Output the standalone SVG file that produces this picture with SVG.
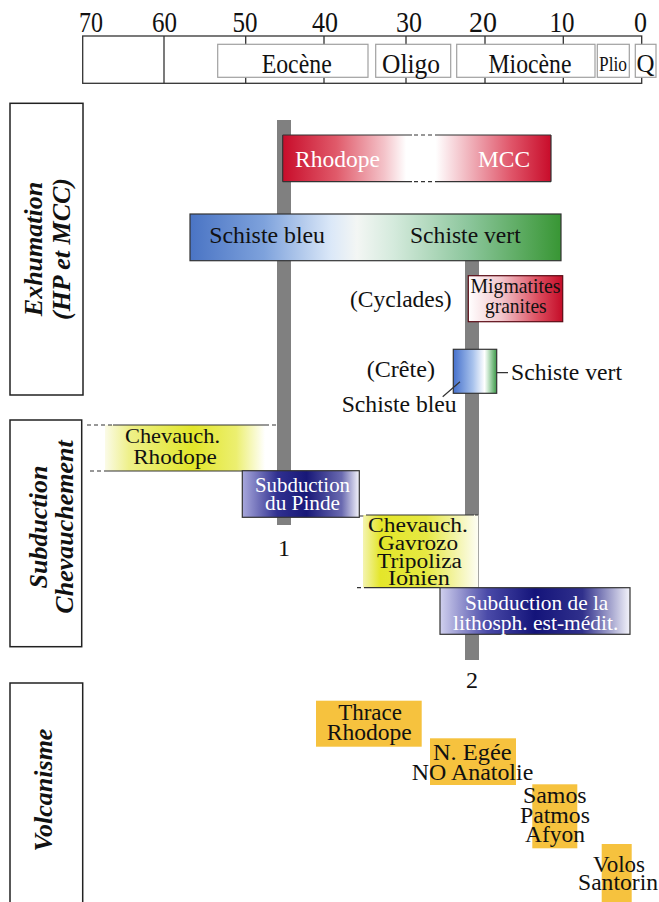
<svg xmlns="http://www.w3.org/2000/svg" width="659" height="902" viewBox="0 0 659 902">
<style>
text{font-family:"Liberation Serif","Times New Roman",serif;fill:#111}
.w{fill:#fff}
.ax{stroke:#333;stroke-width:1.3;fill:none}
.per{fill:#fff;stroke:#a0a0a0;stroke-width:1.2}
.num{font-size:29px;text-anchor:middle}
.plab{font-size:28px;text-anchor:middle}
.lab{font-size:24px}
.side{font-size:26px;font-weight:bold;font-style:italic;text-anchor:middle}
.box{stroke:#333;stroke-width:1.2}
.bar{fill:#808080}
.ln{stroke:#333;stroke-width:1.2;fill:none}
.dash{stroke:#333;stroke-width:1.2;fill:none;stroke-dasharray:4 3}
.vol{fill:#f6c23e}
.mid{text-anchor:middle}
</style>
<defs>
<linearGradient id="gRed" x1="0" y1="0" x2="1" y2="0">
<stop offset="0" stop-color="#c80c2a"/><stop offset="0.2" stop-color="#e05a6a"/><stop offset="0.38" stop-color="#f4c4ca"/><stop offset="0.46" stop-color="#ffffff"/><stop offset="0.57" stop-color="#ffffff"/><stop offset="0.68" stop-color="#f2bcc4"/><stop offset="0.85" stop-color="#e0566a"/><stop offset="1" stop-color="#c80c2a"/>
</linearGradient>
<linearGradient id="gSch" x1="0" y1="0" x2="1" y2="0">
<stop offset="0" stop-color="#4a74c4"/><stop offset="0.2" stop-color="#7ea2dc"/><stop offset="0.38" stop-color="#dbe8f8"/><stop offset="0.45" stop-color="#f3f6f4"/><stop offset="0.55" stop-color="#d4eadc"/><stop offset="0.75" stop-color="#8cc69c"/><stop offset="1" stop-color="#389634"/>
</linearGradient>
<linearGradient id="gMig" x1="0" y1="0" x2="1" y2="0">
<stop offset="0" stop-color="#ffffff"/><stop offset="0.35" stop-color="#f2c6cc"/><stop offset="0.75" stop-color="#dc4a5c"/><stop offset="1" stop-color="#c40c28"/>
</linearGradient>
<linearGradient id="gCre" x1="0" y1="0" x2="1" y2="0">
<stop offset="0" stop-color="#4570cc"/><stop offset="0.45" stop-color="#a8c2ec"/><stop offset="0.72" stop-color="#ffffff"/><stop offset="0.78" stop-color="#d8eedc"/><stop offset="1" stop-color="#3c9a48"/>
</linearGradient>
<linearGradient id="gY1" x1="0" y1="0" x2="1" y2="0">
<stop offset="0" stop-color="#fbfbe8"/><stop offset="0.15" stop-color="#eef08a"/><stop offset="0.55" stop-color="#e2e62a"/><stop offset="0.82" stop-color="#ecef70"/><stop offset="1" stop-color="#ffffff"/>
</linearGradient>
<linearGradient id="gY2" x1="0" y1="0" x2="1" y2="0">
<stop offset="0" stop-color="#f4f4b0"/><stop offset="0.15" stop-color="#e4e62a"/><stop offset="0.55" stop-color="#e6e842"/><stop offset="1" stop-color="#fdfdf5"/>
</linearGradient>
<linearGradient id="gN1" x1="0" y1="0" x2="1" y2="0">
<stop offset="0" stop-color="#a8a8dc"/><stop offset="0.3" stop-color="#303090"/><stop offset="0.55" stop-color="#181878"/><stop offset="0.85" stop-color="#6a6ab0"/><stop offset="1" stop-color="#f4f4fb"/>
</linearGradient>
<linearGradient id="gN2" x1="0" y1="0" x2="1" y2="0">
<stop offset="0" stop-color="#d0d0ee"/><stop offset="0.25" stop-color="#4a4aa8"/><stop offset="0.5" stop-color="#14147a"/><stop offset="0.75" stop-color="#30308c"/><stop offset="1" stop-color="#f4f4fb"/>
</linearGradient>
</defs>
<rect width="659" height="902" fill="#fff"/>

<g id="timescale">
<rect class="ax" x="82.7" y="36" width="559" height="47.3"/>
<line class="ax" x1="164" y1="36" x2="164" y2="83.3"/>
<path class="ax" d="M245.7 36V45M324 36V45M406 36V45M485 36V45M563.3 36V45M245.7 77V83.3M324 77V83.3M406 77V83.3M485 77V83.3M563.3 77V83.3"/>
<text class="num" x="91" y="32" textLength="24" lengthAdjust="spacingAndGlyphs">70</text>
<text class="num" x="164.5" y="32" textLength="25" lengthAdjust="spacingAndGlyphs">60</text>
<text class="num" x="245" y="32" textLength="25" lengthAdjust="spacingAndGlyphs">50</text>
<text class="num" x="325" y="32" textLength="26" lengthAdjust="spacingAndGlyphs">40</text>
<text class="num" x="409" y="32" textLength="26" lengthAdjust="spacingAndGlyphs">30</text>
<text class="num" x="483" y="32" textLength="28" lengthAdjust="spacingAndGlyphs">20</text>
<text class="num" x="562" y="32" textLength="25" lengthAdjust="spacingAndGlyphs">10</text>
<text class="num" x="640.5" y="32" textLength="13" lengthAdjust="spacingAndGlyphs">0</text>
</g>
<g id="eocene"><rect class="per" x="217.7" y="44.3" width="150.3" height="33"/><text class="plab" x="296.7" y="72.5" textLength="70" lengthAdjust="spacingAndGlyphs">Eocène</text></g>
<g id="oligo"><rect class="per" x="375.7" y="44.3" width="75" height="33"/><text class="plab" x="411" y="72.5" textLength="58" lengthAdjust="spacingAndGlyphs">Oligo</text></g>
<g id="miocene"><rect class="per" x="456.7" y="44.3" width="138.3" height="33"/><text class="plab" x="530" y="72.5" textLength="83" lengthAdjust="spacingAndGlyphs">Miocène</text></g>
<g id="plio"><rect class="per" x="597.3" y="44.3" width="32" height="33"/><text class="mid" x="613" y="71" font-size="22" textLength="28" lengthAdjust="spacingAndGlyphs">Plio</text></g>
<g id="q"><rect class="per" x="635.3" y="44.3" width="20.7" height="33"/><text class="mid" x="645.6" y="72" font-size="26" textLength="18" lengthAdjust="spacingAndGlyphs">Q</text></g>

<g id="label-exhumation">
<rect x="10" y="103.3" width="73" height="291.7" fill="#fff" stroke="#222" stroke-width="1.5"/>
<text class="side" transform="translate(42,249) rotate(-90)">Exhumation</text>
<text class="side" transform="translate(70,249) rotate(-90)">(HP et MCC)</text>
</g>
<g id="label-subduction">
<rect x="10" y="420" width="71.7" height="226.7" fill="#fff" stroke="#222" stroke-width="1.5"/>
<text class="side" transform="translate(47,527) rotate(-90)">Subduction</text>
<text class="side" transform="translate(73,527) rotate(-90)">Chevauchement</text>
</g>
<g id="label-volcanisme">
<rect x="10" y="683" width="72.7" height="225" fill="#fff" stroke="#222" stroke-width="1.5"/>
<text class="side" transform="translate(52,790) rotate(-90)">Volcanisme</text>
</g>

<g id="timeline-1"><rect class="bar" x="277" y="120" width="14" height="405"/><text class="lab mid" x="284" y="556">1</text></g>
<g id="timeline-2"><rect class="bar" x="465" y="250" width="14" height="410"/><text class="lab mid" x="472" y="688">2</text></g>

<g id="rhodope-mcc">
<rect x="282.7" y="135" width="268.3" height="46.7" fill="url(#gRed)"/>
<path class="ln" d="M282.7 135V181.7M551 135V181.7M282.7 135H412M435 135H551M282.7 181.7H412M435 181.7H551"/>
<path d="M414 135H434M414 181.7H434" stroke="#333" stroke-width="1.2" stroke-dasharray="4 3"/>
<text class="lab w" x="295" y="167" textLength="85" lengthAdjust="spacingAndGlyphs">Rhodope</text>
<text class="lab w" x="478" y="167" textLength="52" lengthAdjust="spacingAndGlyphs">MCC</text>
</g>

<g id="schiste">
<rect class="box" x="190" y="214" width="371" height="46.7" fill="url(#gSch)"/>
<text class="lab" x="209.3" y="243.3" textLength="115.7" lengthAdjust="spacingAndGlyphs">Schiste bleu</text>
<text class="lab" x="410" y="243.3" textLength="110.7" lengthAdjust="spacingAndGlyphs">Schiste vert</text>
</g>

<g id="migmatites">
<rect x="468.3" y="275.7" width="94.4" height="46" fill="url(#gMig)" stroke="#5a0a14" stroke-width="1.2"/>
<text class="mid" x="515.5" y="293.3" font-size="21" textLength="90" lengthAdjust="spacingAndGlyphs">Migmatites</text>
<text class="mid" x="515.8" y="312.7" font-size="21" textLength="61.7" lengthAdjust="spacingAndGlyphs">granites</text>
</g>
<g id="cyclades"><text class="lab" x="350" y="306.7" textLength="101.7" lengthAdjust="spacingAndGlyphs">(Cyclades)</text></g>

<g id="crete">
<rect class="box" x="453.3" y="349.3" width="43.4" height="44" fill="url(#gCre)"/>
<text class="lab" x="366.7" y="376.7" textLength="68.3" lengthAdjust="spacingAndGlyphs">(Crête)</text>
<text class="lab" x="341.7" y="411.7" textLength="115" lengthAdjust="spacingAndGlyphs">Schiste bleu</text>
<text class="lab" x="511" y="380" textLength="111" lengthAdjust="spacingAndGlyphs">Schiste vert</text>
</g>

<g id="chevauch-rhodope">
<rect x="105" y="425" width="160" height="46" fill="url(#gY1)"/>
<text class="mid" x="172.5" y="443.3" font-size="22" textLength="95" lengthAdjust="spacingAndGlyphs">Chevauch.</text>
<text class="mid" x="175" y="464" font-size="22" textLength="83.7" lengthAdjust="spacingAndGlyphs">Rhodope</text>
</g>

<g id="subduction-pinde">
<rect class="box" x="242.3" y="470.7" width="117" height="46.6" fill="url(#gN1)"/>
<text class="mid w" x="302.5" y="491.7" font-size="21" textLength="95" lengthAdjust="spacingAndGlyphs">Subduction</text>
<text class="mid w" x="302.5" y="510" font-size="21" textLength="75" lengthAdjust="spacingAndGlyphs">du Pinde</text>
</g>

<g id="chevauch-gavrozo">
<rect x="363" y="515" width="115.3" height="72.7" fill="url(#gY2)"/>
<text class="mid" x="418" y="531.7" font-size="20" textLength="100" lengthAdjust="spacingAndGlyphs">Chevauch.</text>
<text class="mid" x="418" y="550" font-size="20" textLength="80" lengthAdjust="spacingAndGlyphs">Gavrozo</text>
<text class="mid" x="419.5" y="568" font-size="20" textLength="85" lengthAdjust="spacingAndGlyphs">Tripoliza</text>
<text class="mid" x="419" y="585" font-size="20" textLength="62" lengthAdjust="spacingAndGlyphs">Ionien</text>
</g>

<g id="subduction-lithosph">
<rect class="box" x="440" y="587.7" width="190" height="46.6" fill="url(#gN2)"/>
<text class="mid w" x="536.7" y="610" font-size="21" textLength="143.3" lengthAdjust="spacingAndGlyphs">Subduction de la</text>
<text class="mid w" x="535.7" y="630" font-size="21" textLength="165.3" lengthAdjust="spacingAndGlyphs">lithosph. est-médit.</text>
</g>

<g id="thrace-rhodope">
<rect class="vol" x="316" y="700.7" width="105.7" height="46"/>
<text class="mid" x="370" y="720" font-size="23" textLength="63.7" lengthAdjust="spacingAndGlyphs">Thrace</text>
<text class="mid" x="369.2" y="740" font-size="23" textLength="85" lengthAdjust="spacingAndGlyphs">Rhodope</text>
</g>
<g id="n-egee">
<rect class="vol" x="430" y="738.3" width="86" height="46.7"/>
<text class="mid" x="472.3" y="760" font-size="23" textLength="78.7" lengthAdjust="spacingAndGlyphs">N. Egée</text>
<text class="mid" x="472.5" y="780" font-size="23" textLength="121.6" lengthAdjust="spacingAndGlyphs">NO Anatolie</text>
</g>
<g id="samos">
<rect class="vol" x="532.3" y="784.3" width="45" height="64"/>
<text class="mid" x="554.8" y="803.3" font-size="23" textLength="63.7" lengthAdjust="spacingAndGlyphs">Samos</text>
<text class="mid" x="555" y="822.7" font-size="23" textLength="70" lengthAdjust="spacingAndGlyphs">Patmos</text>
<text class="mid" x="555" y="841.7" font-size="23" textLength="60" lengthAdjust="spacingAndGlyphs">Afyon</text>
</g>
<g id="volos">
<rect class="vol" x="601.7" y="844" width="30" height="58"/>
<text class="mid" x="619" y="871.7" font-size="23" textLength="52" lengthAdjust="spacingAndGlyphs">Volos</text>
<text class="mid" x="618" y="890" font-size="23" textLength="80" lengthAdjust="spacingAndGlyphs">Santorin</text>
</g>

<g id="connectors">
<path class="dash" d="M87 425H113M265 425H277M90 471H105M359.3 516H366M475 515H478M357 587.7H365"/>
<path class="ln" d="M113 425H265M105 471H242.3M366 515H474M365 587.7H440"/>
<path class="ln" d="M442.7 396.7L460 381.7M496.7 372.7H508"/>
</g>
</svg>
